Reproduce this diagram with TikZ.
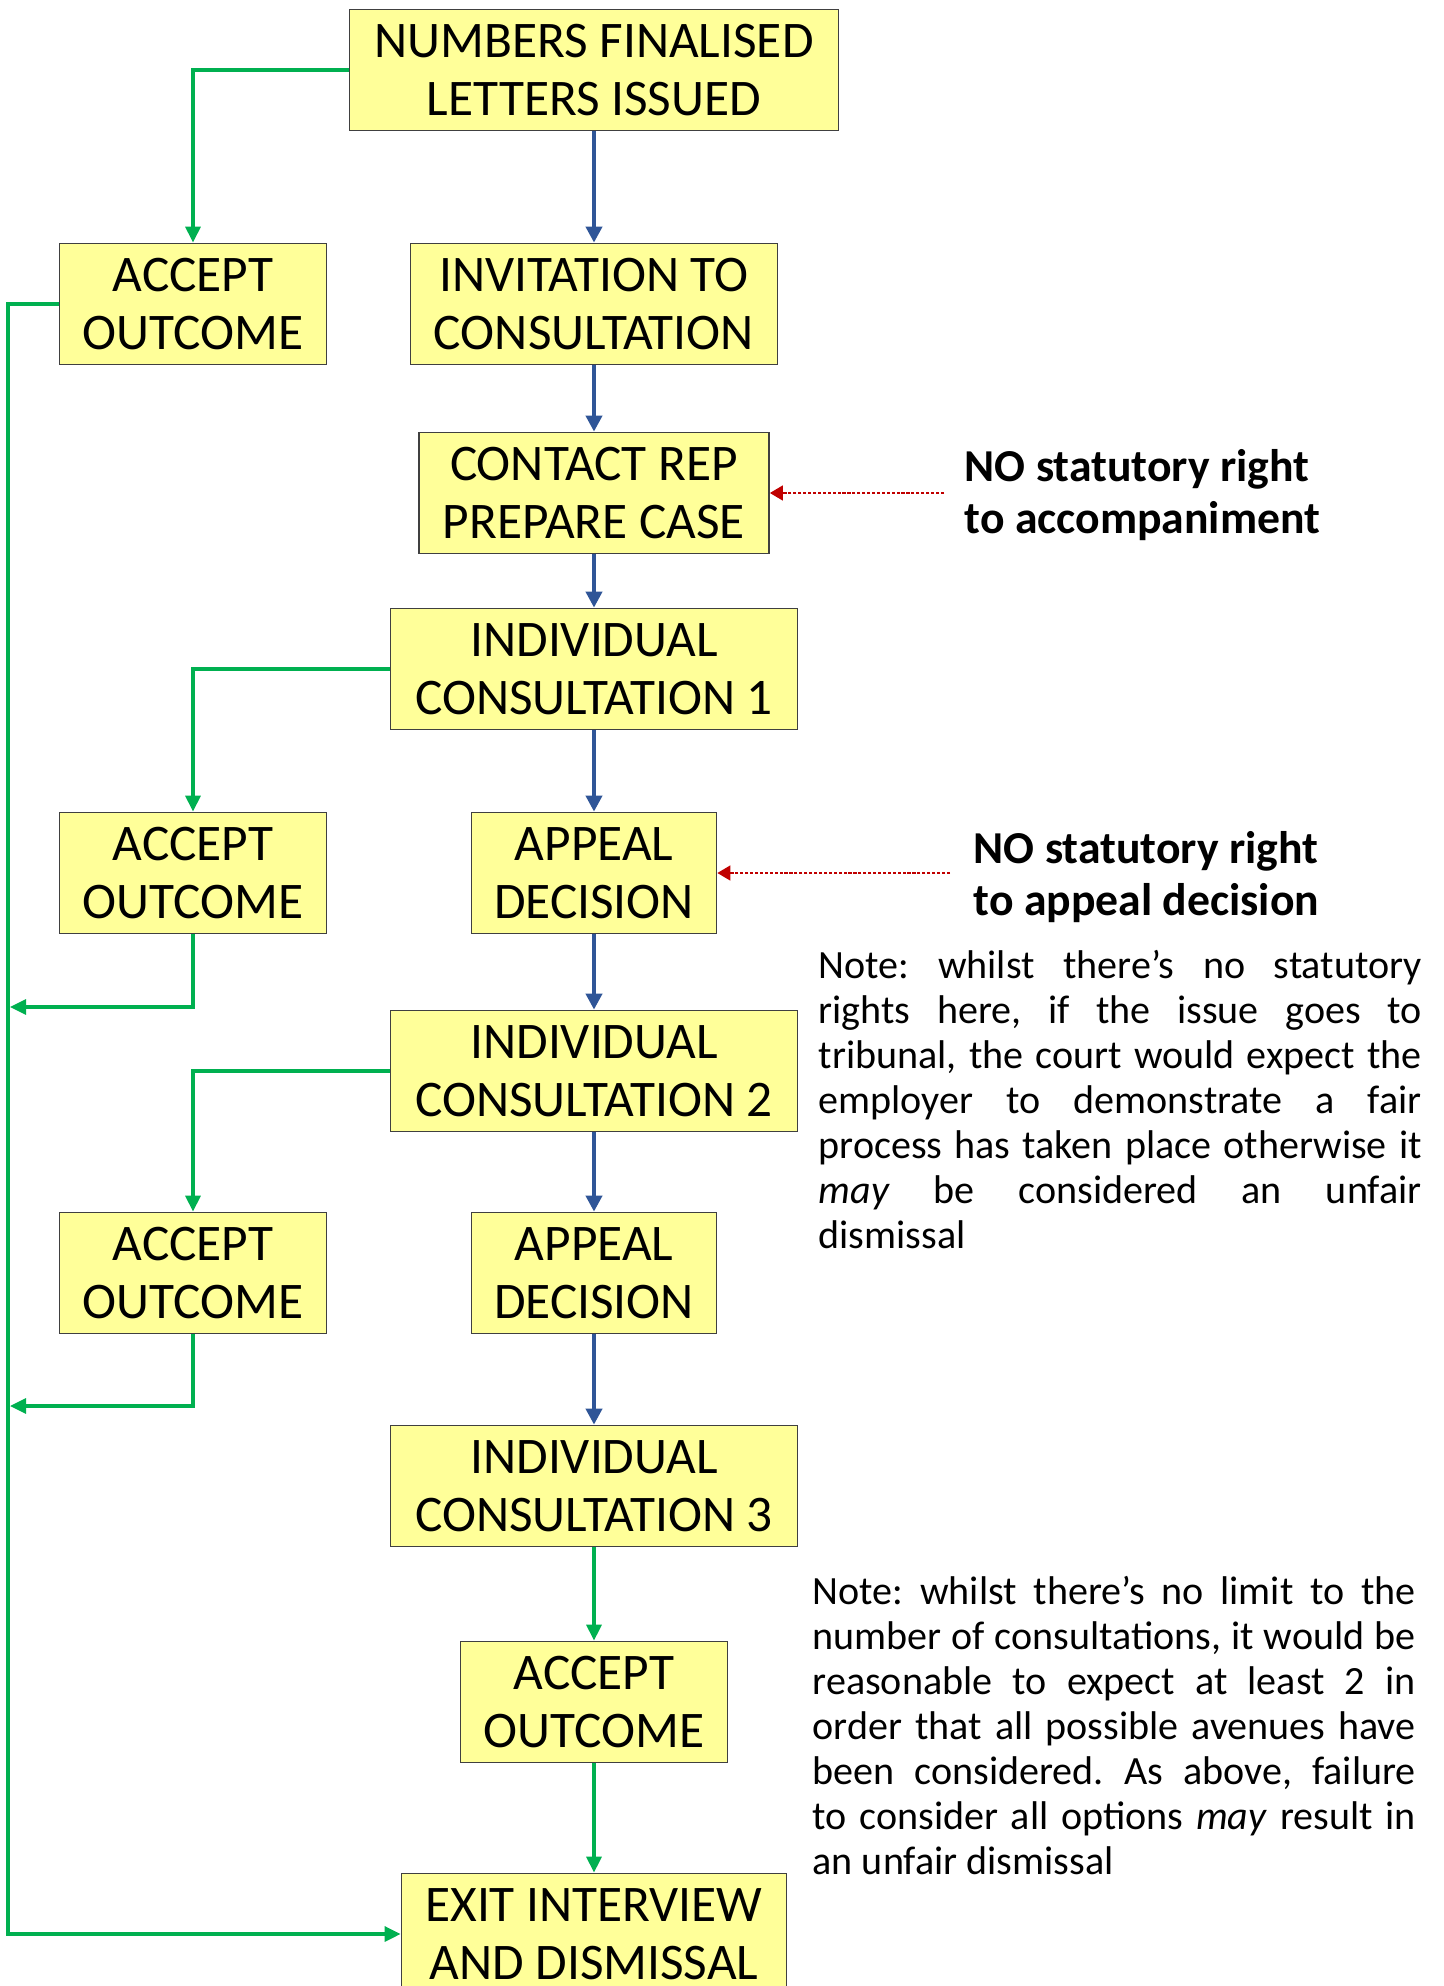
\documentclass[tikz,border=0pt]{standalone}
\usepackage{fontspec}
\setmainfont{Carlito}
\usetikzlibrary{arrows, arrows.meta}
\usetikzlibrary{calc}
\definecolor{boxcolor}{RGB}{255,255,153}
\definecolor{edgecolor}{RGB}{64,64,64}
\definecolor{yescolor}{RGB}{0,176,80}
\definecolor{flowcolor}{RGB}{47,85,151}
\definecolor{hintcolor}{RGB}{192,0,0}
\frenchspacing

\begin{document}
\begin{tikzpicture}[scale=1,
    box/.style={draw=edgecolor, fill=boxcolor, line width=0.5pt, align=center, inner sep=0pt, minimum height=1.21cm, font=\fontsize{14.6}{16.6}\selectfont},
    flow/.style={draw=flowcolor, line width=1.1pt, -{Triangle[length=0.16cm, width=0.16cm]}},
    yes/.style={draw=yescolor, line width=0.9pt, -{Triangle[length=0.16cm, width=0.15cm]}},
    hint/.style={draw=hintcolor, line width=0.45pt, dash pattern=on 0.9pt off 0.5pt, -{Triangle[length=0.13cm, width=0.15cm]}},
    remark/.style={anchor=west, align=left, inner sep=0pt, font=\bfseries\fontsize{13}{14.8}\selectfont},
    note/.style={anchor=north west, inner sep=0pt, text width=6.03cm, align=justify, font=\fontsize{11.4}{12.8}\selectfont}]

    \useasboundingbox (0,0) rectangle (14.43,-19.86);

    \node [box, minimum width=4.89cm] (numbers) at (5.94,-0.70) {NUMBERS FINALISED\\LETTERS ISSUED};
    \node [box, minimum width=2.67cm] (accept1) at (1.93,-3.04) {ACCEPT\\OUTCOME};
    \node [box, minimum width=3.67cm] (invite) at (5.94,-3.04) {INVITATION TO\\CONSULTATION};
    \node [box, minimum width=3.50cm] (contact) at (5.94,-4.93) {CONTACT REP\\PREPARE CASE};
    \node [box, minimum width=4.07cm] (consult1) at (5.94,-6.69) {INDIVIDUAL\\CONSULTATION 1};
    \node [box, minimum width=2.67cm] (accept2) at (1.93,-8.73) {ACCEPT\\OUTCOME};
    \node [box, minimum width=2.45cm] (appeal1) at (5.94,-8.73) {APPEAL\\DECISION};
    \node [box, minimum width=4.07cm] (consult2) at (5.94,-10.71) {INDIVIDUAL\\CONSULTATION 2};
    \node [box, minimum width=2.67cm] (accept3) at (1.93,-12.73) {ACCEPT\\OUTCOME};
    \node [box, minimum width=2.45cm] (appeal2) at (5.94,-12.73) {APPEAL\\DECISION};
    \node [box, minimum width=4.07cm] (consult3) at (5.94,-14.86) {INDIVIDUAL\\CONSULTATION 3};
    \node [box, minimum width=2.67cm] (accept4) at (5.94,-17.02) {ACCEPT\\OUTCOME};
    \node [box, minimum width=3.85cm] (exit) at (5.94,-19.34) {EXIT INTERVIEW\\AND DISMISSAL};

    \draw [flow] (numbers) -- (invite);
    \draw [flow] (invite) -- (contact);
    \draw [flow] (contact) -- (consult1);
    \draw [flow] (consult1) -- (appeal1);
    \draw [flow] (appeal1) -- (consult2);
    \draw [flow] (consult2) -- (appeal2);
    \draw [flow] (appeal2) -- (consult3);
    \draw [yes] (consult3) -- (accept4);
    \draw [yes] (accept4) -- (exit);

    \coordinate (rail) at (0.08,0);
    \coordinate (join2) at (0.10,-10.07);
    \coordinate (join3) at (0.10,-14.06);
    \draw [yes] (numbers.west) -| (accept1.north);
    \draw [yes] (consult1.west) -| (accept2.north);
    \draw [yes] (consult2.west) -| (accept3.north);
    \draw [yes] (accept1.west) -- (accept1.west -| rail) |- (exit.west);
    \draw [yes] (accept2.south) |- (join2);
    \draw [yes] (accept3.south) |- (join3);

    \coordinate (hint1) at (9.44,-4.93);
    \coordinate (hint2) at (9.50,-8.73);
    \draw [hint] (hint1) -- (contact.east);
    \draw [hint] (hint2) -- (appeal1.east);

    \node [remark] (right1) at (9.64,-4.95) {NO statutory right\\to accompaniment};
    \node [remark] (right2) at (9.73,-8.77) {NO statutory right\\to appeal decision};

    \node [note] (note1) at (8.18,-9.50) {Note: whilst there’s no statutory\linebreak rights here, if the issue goes to\linebreak tribunal, the court would expect the\linebreak employer to demonstrate a fair\linebreak process has taken place otherwise it\linebreak \textit{may} be considered an unfair\linebreak dismissal};
    \node [note] (note2) at (8.12,-15.76) {Note: whilst there’s no limit to the\linebreak number of consultations, it would be\linebreak reasonable to expect at least 2 in\linebreak order that all possible avenues have\linebreak been considered. As above, failure\linebreak to consider all options \textit{may} result in\linebreak an unfair dismissal};

\end{tikzpicture}
\end{document}
